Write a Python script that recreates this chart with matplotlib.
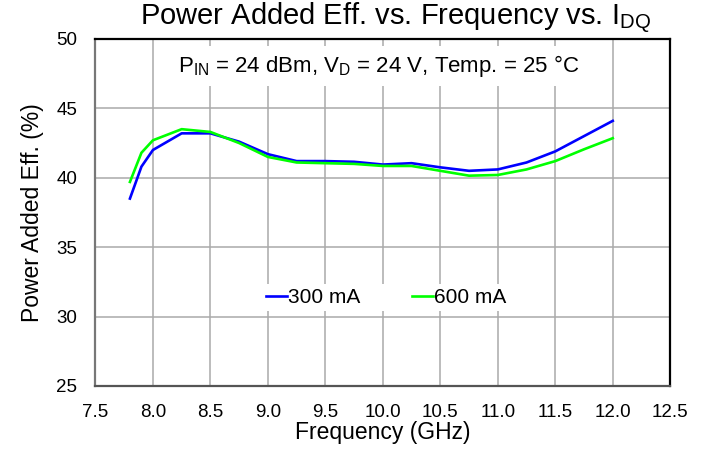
import matplotlib
matplotlib.use("Agg")
import matplotlib.pyplot as plt

plt.rcParams['font.family'] = ['Liberation Sans', 'DejaVu Sans']

freq = [7.8, 7.9, 8.0, 8.25, 8.5, 8.75, 9.0, 9.25, 9.5, 9.75, 10.0,
        10.25, 10.5, 10.75, 11.0, 11.25, 11.5, 11.75, 12.0]
pae_300 = [38.5, 40.8, 42.0, 43.2, 43.2, 42.6, 41.7, 41.2, 41.2, 41.15, 40.95,
           41.05, 40.75, 40.5, 40.6, 41.1, 41.9, 43.0, 44.1]
pae_600 = [39.7, 41.8, 42.7, 43.5, 43.3, 42.5, 41.5, 41.1, 41.05, 41.0, 40.85,
           40.85, 40.5, 40.15, 40.2, 40.6, 41.2, 42.05, 42.85]

xticks = [7.5, 8.0, 8.5, 9.0, 9.5, 10.0, 10.5, 11.0, 11.5, 12.0, 12.5]
yticks = [25, 30, 35, 40, 45, 50]

fig = plt.figure(figsize=(7.07, 4.53), dpi=100)
ax = fig.add_axes([0.135, 0.148, 0.813, 0.766])

ax.plot(freq, pae_300, color='#0000ff', lw=1.9, label='300 mA', zorder=3)
ax.plot(freq, pae_600, color='#00ff00', lw=1.9, label='600 mA', zorder=3)

ax.set_xlim(7.5, 12.5)
ax.set_ylim(25, 50)
ax.set_xticks(xticks)
ax.set_xticklabels([f"{t:.1f}" for t in xticks])
ax.set_yticks(yticks)
ax.tick_params(length=0, labelsize=13.5, pad=13)
ax.grid(True, color='#aaaaaa', lw=1.1)
ax.set_axisbelow(True)

for side in ['top', 'right']:
    ax.spines[side].set_color('black')
    ax.spines[side].set_linewidth(1.6)
ax.spines['left'].set_color('#777777')
ax.spines['left'].set_linewidth(1.6)
ax.spines['bottom'].set_color('#555555')
ax.spines['bottom'].set_linewidth(1.6)

ax.set_xlabel('Frequency (GHz)', fontsize=16.5, labelpad=0)
ax.set_ylabel('Power Added Eff. (%)', fontsize=16.5, labelpad=9)
fig.text(0.559, 0.945, r'Power Added Eff. vs. Frequency vs. I$_{\mathregular{DQ}}$',
         ha='center', va='baseline', fontsize=21)

ax.text(0.492, 0.905,
        r'P$_{\mathregular{IN}}$ = 24 dBm, V$_{\mathregular{D}}$ = 24 V, Temp. = 25 °C',
        transform=ax.transAxes, ha='center', va='baseline', fontsize=16,
        bbox=dict(facecolor='white', edgecolor='none', pad=5), zorder=2)

leg = ax.legend(loc='center', bbox_to_anchor=(0.506, 0.254), ncol=2, frameon=True,
                fontsize=15, handlelength=1.0, handletextpad=0.05, columnspacing=2.5,
                borderpad=0.2)
leg.get_frame().set_edgecolor('none')
leg.get_frame().set_facecolor('white')
leg.get_frame().set_alpha(1.0)

fig.savefig('out.png', dpi=100)
